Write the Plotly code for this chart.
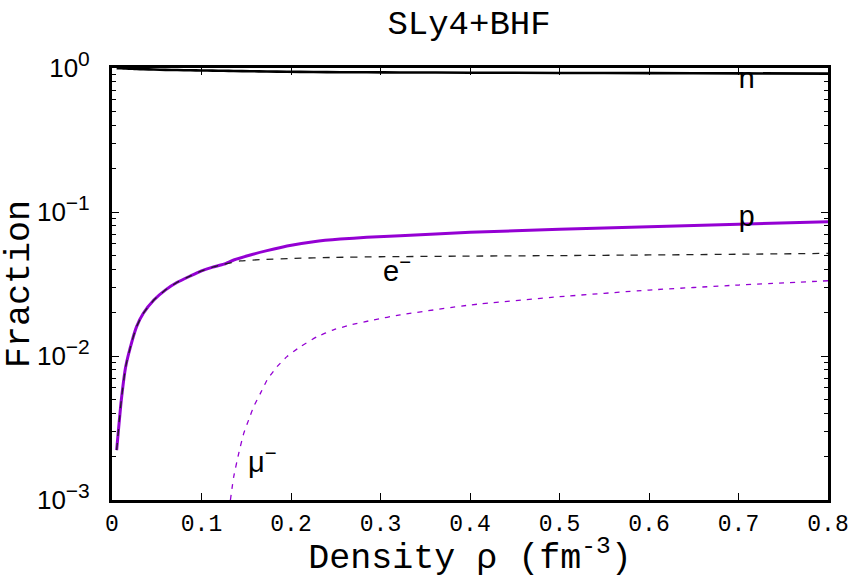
import math
import plotly.graph_objects as go

# Baryon density (fm^-3) and particle fractions for the SLy4+BHF equation of state
rho_p = [0.0052, 0.0104, 0.0153, 0.0227, 0.0275, 0.035, 0.0468, 0.0599, 0.0729,
         0.0877, 0.1, 0.1125, 0.125, 0.136, 0.1546, 0.1732, 0.1955, 0.2252,
         0.255, 0.2847, 0.3219, 0.4, 0.5, 0.6, 0.7, 0.8]
frac_p = [0.00222, 0.00495, 0.00843, 0.0129, 0.0160, 0.0198, 0.0245, 0.0288, 0.0325,
          0.0360, 0.0390, 0.0414, 0.0434, 0.0464, 0.0503, 0.0539, 0.0581, 0.0622,
          0.0649, 0.0667, 0.0685, 0.0722, 0.0760, 0.0790, 0.0822, 0.0855]
frac_n = [0.9978, 0.9951, 0.9916, 0.9871, 0.9840, 0.9802, 0.9755, 0.9712, 0.9675,
          0.9640, 0.9610, 0.9586, 0.9566, 0.9536, 0.9497, 0.9461, 0.9419, 0.9378,
          0.9351, 0.9333, 0.9315, 0.9278, 0.9240, 0.9210, 0.9178, 0.9145]

rho_e = [0.0052, 0.0104, 0.0153, 0.0227, 0.0275, 0.035, 0.0468, 0.0599, 0.0729,
         0.0877, 0.1, 0.1125, 0.125, 0.1435, 0.17, 0.2, 0.25, 0.3, 0.4,
         0.5, 0.6, 0.7, 0.8]
frac_e = [0.00222, 0.00495, 0.00843, 0.0129, 0.0160, 0.0198, 0.0245, 0.0288, 0.0325,
          0.0360, 0.0390, 0.0414, 0.0434, 0.0457, 0.0468, 0.0476, 0.0484, 0.0489, 0.0494,
          0.0498, 0.0503, 0.0509, 0.0516]

rho_mu = [0.1323, 0.136, 0.1416, 0.1472, 0.1527, 0.1583, 0.1658, 0.1732, 0.1844,
          0.1955, 0.2104, 0.229, 0.2475, 0.2661, 0.292, 0.322, 0.4, 0.5, 0.6, 0.7, 0.8]
frac_mu = [0.00100, 0.00145, 0.00211, 0.0029, 0.0036, 0.00445, 0.0055, 0.0068, 0.00843,
           0.0099, 0.0116, 0.0136, 0.0152, 0.0164, 0.0178, 0.0193, 0.0226, 0.0258,
           0.0287, 0.0311, 0.0333]

x_ticks = [0, 0.1, 0.2, 0.3, 0.4, 0.5, 0.6, 0.7, 0.8]
x_tick_text = ["0", "0.1", "0.2", "0.3", "0.4", "0.5", "0.6", "0.7", "0.8"]
y_ticks = [0.001, 0.01, 0.1, 1]
y_exponents = ["−3", "−2", "−1", "0"]
y_tick_text = ["10<sup><span style='font-size:21px'>%s</span></sup>" % e for e in y_exponents]
y_minor = [m * 10.0 ** d for d in (-3, -2, -1) for m in range(2, 10)]

# (label, density, fraction, font family)
particle_labels = [
    ("n", 0.7085, 0.825, "Liberation Mono"),
    ("p", 0.7085, 0.0905, "Liberation Mono"),
    ("e<sup>−</sup>", 0.318, 0.0405, "Liberation Sans"),
    ("μ<sup>−</sup>", 0.168, 0.0019, "Liberation Sans"),
]

mono = "Liberation Mono"
purple = "#9400D3"
smooth = dict(shape="spline", smoothing=0.5)

fig = go.Figure()
fig.add_trace(go.Scatter(x=rho_p, y=frac_n, mode="lines",
                         line=dict(color="black", width=2.6, **smooth)))
fig.add_trace(go.Scatter(x=rho_p, y=frac_p, mode="lines",
                         line=dict(color=purple, width=3, **smooth)))
fig.add_trace(go.Scatter(x=rho_e, y=frac_e, mode="lines",
                         line=dict(color="#222222", width=1.3, dash="7px,7px", **smooth)))
fig.add_trace(go.Scatter(x=rho_mu, y=frac_mu, mode="lines",
                         line=dict(color=purple, width=1.3, dash="5px,6px", **smooth)))

for text, x, y, fam in particle_labels:
    # annotation positions on a log axis are given in log10 units
    fig.add_annotation(x=x, y=math.log10(y), xref="x", yref="y", text=text,
                       showarrow=False, xanchor="center", yanchor="middle",
                       font=dict(family=fam, size=29, color="black"))

fig.update_layout(
    width=859, height=579,
    margin=dict(l=112, r=31, t=68, b=79, autoexpand=False),
    paper_bgcolor="white", plot_bgcolor="white",
    showlegend=False,
    title=dict(text="SLy4+BHF", x=0.546, xanchor="center", y=0.962, yanchor="middle",
               font=dict(family=mono, size=34, color="black")),
)
fig.update_xaxes(
    range=[0, 0.8], tickmode="array", tickvals=x_ticks, ticktext=x_tick_text,
    ticks="inside", ticklen=7, tickwidth=1.2, tickcolor="black",
    showline=True, linewidth=3, linecolor="black", mirror="allticks",
    showgrid=False, zeroline=False, automargin=False,
    tickfont=dict(family=mono, size=23, color="black"),
    title=dict(text="Density ρ (fm<sup>-3</sup>)", standoff=8,
               font=dict(family=mono, size=35, color="black")),
)
fig.update_yaxes(
    type="log", range=[-3, 0], tickmode="array", tickvals=y_ticks, ticktext=y_tick_text,
    ticks="inside", ticklen=7, tickwidth=1.2, tickcolor="black",
    minor=dict(tickmode="array", tickvals=y_minor, ticks="inside", ticklen=4,
               tickwidth=1, tickcolor="black", showgrid=False),
    showline=True, linewidth=3, linecolor="black", mirror="allticks",
    showgrid=False, zeroline=False, automargin=False,
    ticklabelstandoff=14,
    tickfont=dict(family="Liberation Sans", size=26, color="black"),
    title=dict(text="Fraction", standoff=9,
               font=dict(family=mono, size=35, color="black")),
)

fig.write_html("out.html")
